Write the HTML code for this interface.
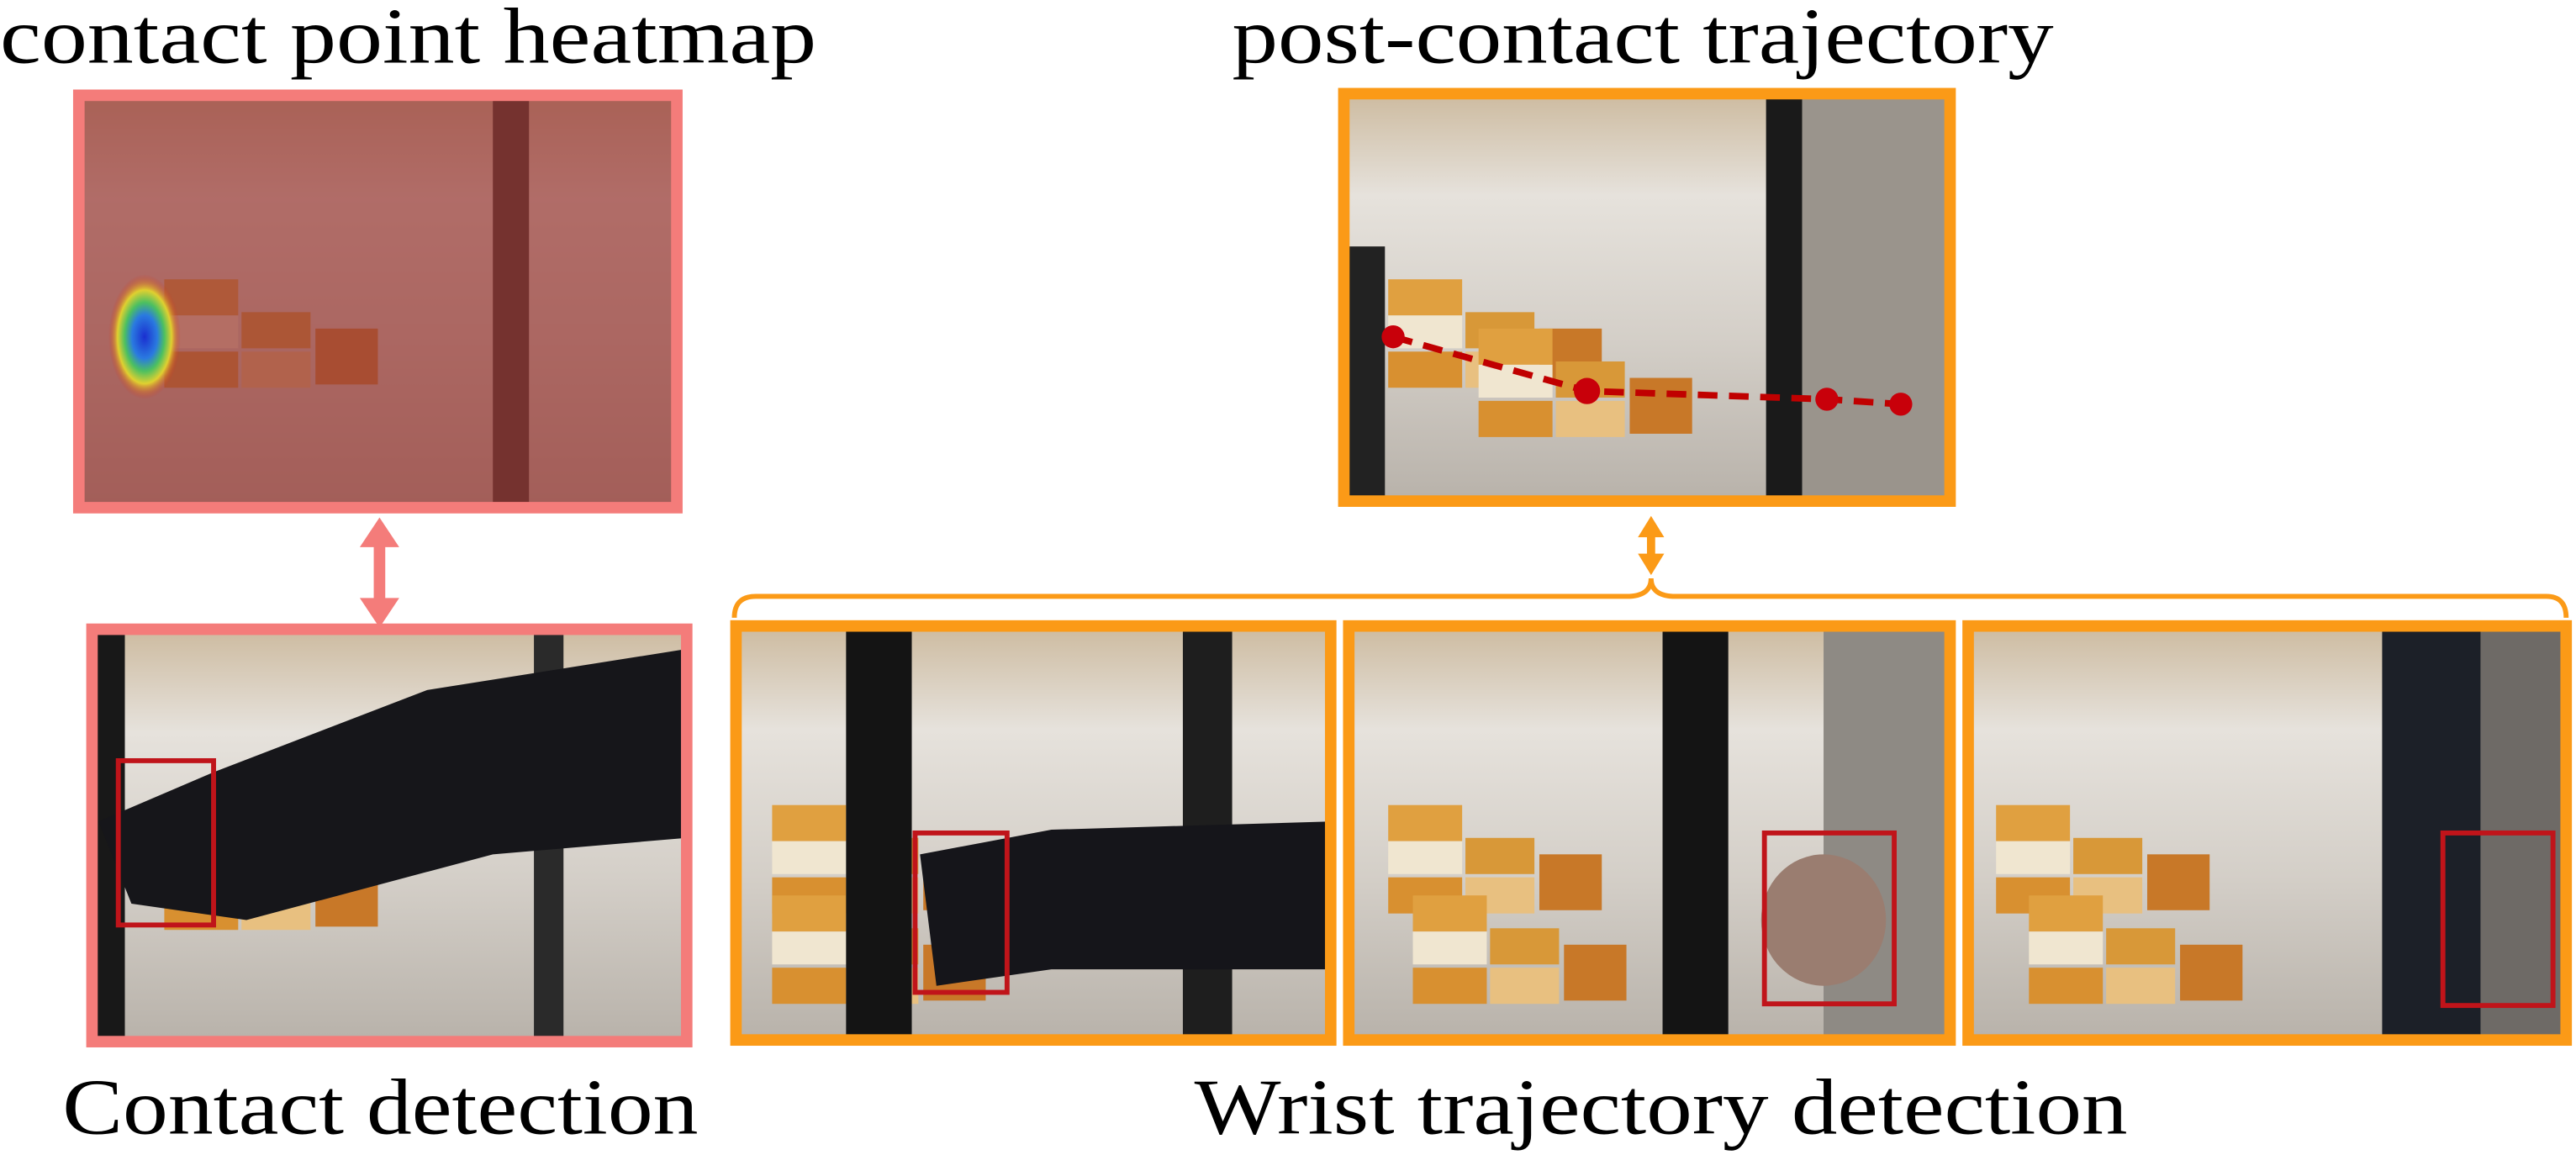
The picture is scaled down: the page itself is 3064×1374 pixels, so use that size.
<!DOCTYPE html>
<html><head><meta charset="utf-8"><style>html,body{margin:0;padding:0;background:#fff}svg{display:block}</style></head>
<body>
<svg width="3064" height="1374" viewBox="0 0 1568 703" preserveAspectRatio="none" xmlns="http://www.w3.org/2000/svg">
<defs>
<linearGradient id="g1" x1="0" y1="0" x2="0" y2="1"><stop offset="0" stop-color="#cdbba0"/><stop offset="0.25" stop-color="#e6e2dc"/><stop offset="0.6" stop-color="#d4cfc8"/><stop offset="1" stop-color="#b8b2aa"/></linearGradient>
<radialGradient id="hm" cx="0.5" cy="0.5" r="0.5"><stop offset="0" stop-color="#1a2fd0"/><stop offset="0.35" stop-color="#2a7ae0"/><stop offset="0.55" stop-color="#4cc060"/><stop offset="0.75" stop-color="#e0d030"/><stop offset="1" stop-color="#d03020" stop-opacity="0"/></radialGradient>
<g id="jars">
<rect x="0" y="0" width="45" height="22" fill="#e0a040"/><rect x="0" y="22" width="45" height="20" fill="#f0e6d0"/>
<rect x="0" y="44" width="45" height="22" fill="#d89030"/><rect x="47" y="20" width="42" height="22" fill="#d89838"/><rect x="47" y="44" width="42" height="22" fill="#e8c080"/>
<rect x="92" y="30" width="38" height="34" fill="#c87828"/>
</g>
</defs>
<g font-family="'Liberation Serif', serif" fill="#000">
<text x="0" y="38" font-size="48" textLength="497" lengthAdjust="spacingAndGlyphs">contact point heatmap</text>
<text x="750" y="38" font-size="48" textLength="500" lengthAdjust="spacingAndGlyphs">post-contact trajectory</text>
<text x="38" y="690" font-size="48" textLength="387" lengthAdjust="spacingAndGlyphs">Contact detection</text>
<text x="727" y="690" font-size="48" textLength="568" lengthAdjust="spacingAndGlyphs">Wrist trajectory detection</text>
</g>

<!-- heatmap frame -->
<rect x="48" y="58" width="364" height="251" fill="url(#g1)"/>
<use href="#jars" x="100" y="170"/>
<rect x="300" y="58" width="22" height="251" fill="#202020"/>
<rect x="48" y="58" width="364" height="251" fill="#9a3a36" opacity="0.7"/>
<ellipse cx="88" cy="205" rx="22" ry="38" fill="url(#hm)"/>
<rect x="48" y="58" width="364" height="251" fill="none" stroke="#f47c7a" stroke-width="7"/>

<!-- pink arrow -->
<line x1="231" y1="330" x2="231" y2="368" stroke="#f47c7a" stroke-width="7"/>
<polygon points="231,315 219,333 243,333" fill="#f47c7a"/>
<polygon points="231,382 219,364 243,364" fill="#f47c7a"/>

<!-- contact detection -->
<rect x="56" y="383" width="362" height="251" fill="url(#g1)"/>
<use href="#jars" x="100" y="500"/>
<rect x="56" y="383" width="20" height="251" fill="#181818"/>
<rect x="325" y="383" width="18" height="251" fill="#2a2a2a"/>
<polygon points="60,500 130,470 260,420 418,395 418,510 300,520 150,560 80,550" fill="#16161a"/>
<rect x="72" y="463" width="58" height="100" fill="none" stroke="#c0141a" stroke-width="3"/>
<rect x="56" y="383" width="362" height="251" fill="none" stroke="#f47c7a" stroke-width="7"/>

<!-- post-contact -->
<rect x="818" y="57" width="369" height="248" fill="url(#g1)"/>
<use href="#jars" x="845" y="170"/><use href="#jars" x="900" y="200"/>
<rect x="1075" y="57" width="22" height="248" fill="#1a1a1a"/>
<rect x="1097" y="57" width="90" height="248" fill="#9a948c"/>
<rect x="818" y="150" width="25" height="155" fill="#222"/>
<polyline points="848,205 966,238 1112,243 1157,246" fill="none" stroke="#c00000" stroke-width="4" stroke-dasharray="12,7"/>
<g fill="#c8000a"><circle cx="848" cy="205" r="7"/><circle cx="966" cy="238" r="8"/><circle cx="1112" cy="243" r="7"/><circle cx="1157" cy="246" r="7"/></g>
<rect x="818" y="57" width="369" height="248" fill="none" stroke="#fb9a17" stroke-width="7"/>

<!-- orange arrow -->
<line x1="1005" y1="325" x2="1005" y2="340" stroke="#fb9a17" stroke-width="5"/>
<polygon points="1005,314 997,327 1013,327" fill="#fb9a17"/>
<polygon points="1005,350 997,337 1013,337" fill="#fb9a17"/>
<!-- brace -->
<path d="M447,376 Q447,363 460,363 L990,363 Q1005,363 1005,352 Q1005,363 1020,363 L1550,363 Q1562,363 1562,376" fill="none" stroke="#fb9a17" stroke-width="3"/>

<!-- three frames -->
<g>
<rect x="448" y="381" width="362" height="252" fill="url(#g1)"/>
<use href="#jars" x="470" y="490"/><use href="#jars" x="470" y="545"/>
<rect x="515" y="381" width="40" height="252" fill="#141414"/>
<rect x="720" y="381" width="30" height="252" fill="#1e1e1e"/>
<polygon points="560,520 640,505 810,500 810,590 640,590 570,600" fill="#15151a"/>
<rect x="557" y="507" width="56" height="97" fill="none" stroke="#c0141a" stroke-width="3"/>
<rect x="448" y="381" width="362" height="252" fill="none" stroke="#fb9a17" stroke-width="7"/>
</g>
<g>
<rect x="821" y="381" width="366" height="252" fill="url(#g1)"/>
<use href="#jars" x="845" y="490"/><use href="#jars" x="860" y="545"/>
<rect x="1012" y="381" width="40" height="252" fill="#141414"/>
<rect x="1110" y="381" width="77" height="252" fill="#8e8a84"/>
<ellipse cx="1110" cy="560" rx="38" ry="40" fill="#9a7d70"/>
<rect x="1074" y="507" width="79" height="104" fill="none" stroke="#c0141a" stroke-width="3"/>
<rect x="821" y="381" width="366" height="252" fill="none" stroke="#fb9a17" stroke-width="7"/>
</g>
<g>
<rect x="1198" y="381" width="364" height="252" fill="url(#g1)"/>
<use href="#jars" x="1215" y="490"/><use href="#jars" x="1235" y="545"/>
<rect x="1450" y="381" width="60" height="252" fill="#1c2028"/>
<rect x="1510" y="381" width="52" height="252" fill="#6e6a66"/>
<rect x="1487" y="507" width="67" height="105" fill="none" stroke="#c0141a" stroke-width="3"/>
<rect x="1198" y="381" width="364" height="252" fill="none" stroke="#fb9a17" stroke-width="7"/>
</g>
</svg>
</body></html>
